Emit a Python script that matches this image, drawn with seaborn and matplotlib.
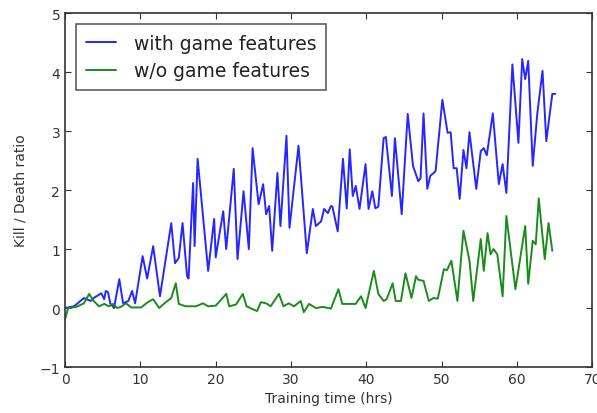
import matplotlib
matplotlib.use("Agg")
import matplotlib.pyplot as plt
import seaborn as sns
import pandas as pd

# Blue series: with game features (hours, kill/death ratio)
with_hours = [0.0, 1.2, 2.5, 3.4, 3.8, 4.8, 5.2, 5.4, 5.7, 6.0, 6.5, 7.2, 7.7, 8.4, 8.9, 9.3,
              10.3, 10.9, 11.7, 12.6, 14.1, 14.6, 15.1, 15.6, 16.2, 16.4, 17.0, 17.2, 17.6,
              19.0, 19.8, 20.0, 21.0, 21.4, 22.4, 22.9, 23.7, 24.4, 24.9, 25.7, 26.3, 26.7,
              27.1, 27.5, 28.2, 28.6, 29.4, 29.8, 31.0, 32.1, 32.9, 33.3, 34.0, 34.4, 34.9,
              35.3, 35.5, 36.2, 36.9, 37.4, 37.8, 38.2, 38.6, 39.1, 39.9, 40.3, 40.8, 41.2,
              41.6, 42.3, 42.6, 43.4, 43.8, 44.7, 45.5, 46.2, 46.9, 47.2, 47.6, 48.1, 48.5,
              49.2, 50.1, 50.8, 51.2, 51.6, 52.0, 52.4, 52.9, 53.3, 53.7, 54.6, 55.2, 55.6,
              56.0, 56.8, 57.6, 58.1, 58.6, 59.4, 60.2, 60.7, 61.1, 61.5, 62.1, 62.7, 63.4,
              63.9, 64.7, 65.1]
with_kd = [0.0, 0.03, 0.17, 0.12, 0.17, 0.25, 0.15, 0.29, 0.27, 0.08, 0.0, 0.49, 0.08, 0.12,
           0.29, 0.08, 0.88, 0.5, 1.05, 0.2, 1.44, 0.76, 0.85, 1.44, 0.54, 0.5, 2.12, 1.05,
           2.53, 0.63, 1.51, 0.86, 1.64, 1.0, 2.36, 0.83, 1.98, 1.0, 2.71, 1.76, 2.1, 1.59,
           1.73, 0.97, 2.29, 1.39, 2.92, 1.36, 2.75, 0.93, 1.68, 1.39, 1.47, 1.68, 1.61,
           1.73, 1.72, 1.3, 2.53, 1.69, 2.69, 1.9, 2.07, 1.68, 2.44, 1.68, 1.98, 1.69, 1.72,
           2.88, 2.9, 1.9, 2.88, 1.59, 3.29, 2.41, 2.15, 2.2, 3.3, 2.02, 2.24, 2.32, 3.53,
           2.97, 2.98, 2.37, 2.37, 1.85, 2.68, 2.37, 2.98, 2.02, 2.66, 2.71, 2.59, 3.3, 2.1,
           2.44, 1.95, 4.13, 2.8, 4.22, 3.88, 4.19, 2.41, 3.29, 4.02, 2.83, 3.63, 3.63]

# Green series: without game features
wo_hours = [0.0, 0.4, 1.5, 2.5, 3.2, 3.8, 4.5, 5.2, 5.8, 6.4, 6.9, 7.4, 8.1, 8.8, 10.1, 11.0,
            11.7, 12.5, 13.1, 14.1, 14.7, 15.1, 16.0, 17.4, 18.3, 19.0, 20.0, 21.4, 21.8,
            22.7, 23.6, 24.1, 24.9, 25.5, 26.0, 26.7, 27.3, 28.4, 29.0, 29.7, 30.4, 31.3,
            31.7, 32.4, 33.3, 34.2, 35.3, 36.3, 36.8, 38.6, 39.3, 39.9, 41.0, 41.6, 42.3,
            42.7, 43.5, 43.9, 44.6, 45.2, 46.0, 46.6, 46.9, 47.6, 48.3, 48.9, 49.5, 50.3,
            50.7, 51.3, 52.1, 52.9, 53.7, 54.2, 55.2, 55.6, 56.1, 56.5, 56.9, 57.4, 58.1,
            58.6, 59.8, 61.1, 61.5, 62.1, 62.5, 62.9, 63.7, 64.2, 64.7]
wo_kd = [-0.19, 0.0, 0.02, 0.08, 0.24, 0.12, 0.03, 0.07, 0.03, 0.07, 0.0, 0.02, 0.08, 0.01,
         0.01, 0.1, 0.15, 0.0, 0.07, 0.17, 0.42, 0.07, 0.03, 0.03, 0.08, 0.03, 0.04, 0.24,
         0.03, 0.06, 0.24, 0.03, -0.02, -0.05, 0.1, 0.08, 0.03, 0.24, 0.03, 0.08, 0.03, 0.12,
         -0.07, 0.07, 0.0, 0.02, -0.01, 0.32, 0.07, 0.07, 0.2, 0.0, 0.63, 0.24, 0.12, 0.15,
         0.42, 0.12, 0.12, 0.59, 0.17, 0.54, 0.48, 0.46, 0.12, 0.17, 0.16, 0.66, 0.64, 0.8,
         0.12, 1.31, 0.8, 0.12, 1.17, 0.63, 1.27, 0.91, 1.0, 0.91, 0.2, 1.56, 0.32, 1.39,
         0.41, 1.14, 1.08, 1.86, 0.83, 1.44, 0.97]

labels = ["with game features", "w/o game features"]
x_ticks = [0, 10, 20, 30, 40, 50, 60, 70]
y_ticks = [-1, 0, 1, 2, 3, 4, 5]

sns.set_style("white")
plt.rcParams["font.family"] = ["DejaVu Sans"]
plt.rcParams["xtick.direction"] = "in"
plt.rcParams["ytick.direction"] = "in"

fig = plt.figure(figsize=(5.97, 4.14), dpi=100)
ax = fig.add_axes([0.109, 0.111, 0.883, 0.855])

df1 = pd.DataFrame({"hours": with_hours, "kd": with_kd})
df2 = pd.DataFrame({"hours": wo_hours, "kd": wo_kd})
sns.lineplot(data=df1, x="hours", y="kd", ax=ax, color=(0.15, 0.15, 1.0), lw=1.4, label=labels[0])
sns.lineplot(data=df2, x="hours", y="kd", ax=ax, color=(0.1, 0.55, 0.1), lw=1.4, label=labels[1])

ax.set_xlim(0, 70)
ax.set_ylim(-1, 5)
ax.set_xticks(x_ticks)
ax.set_yticks(y_ticks)
ax.tick_params(axis="both", which="both", direction="in", length=4, width=0.8,
               labelsize=10, colors="#333333", top=True, right=True, bottom=True, left=True)
for s in ax.spines.values():
    s.set_color("#333333")
    s.set_linewidth(1.2)
ax.set_xlabel("Training time (hrs)", fontsize=10, color="#333333")
ax.set_ylabel("Kill / Death ratio", fontsize=10, color="#333333", labelpad=9)

leg = ax.legend(loc="upper left", fontsize=13.5, frameon=True, fancybox=False,
                handlelength=1.6, handletextpad=1.0, borderpad=0.5, labelspacing=0.45,
                borderaxespad=0.6)
leg.get_frame().set_edgecolor("#333333")
leg.get_frame().set_linewidth(1.2)
for t in leg.get_texts():
    t.set_color("#222222")

fig.savefig("out.png", dpi=100, facecolor="white")
